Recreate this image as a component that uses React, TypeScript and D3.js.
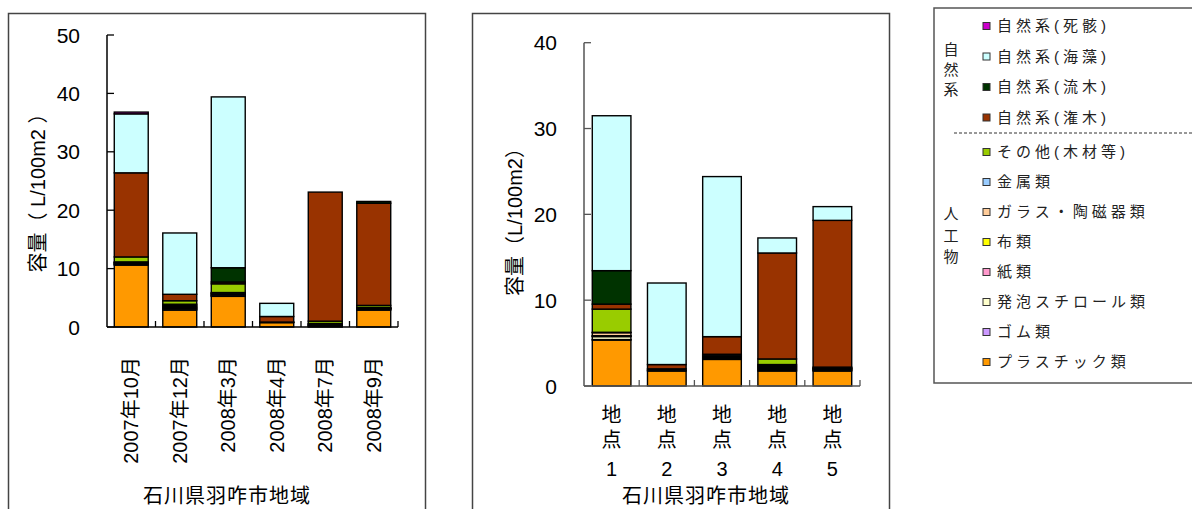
import React from "react";
import * as d3 from "d3";

// ---------- series (bottom -> top of stack) ----------
const seriesKeys = ["plastic","rubber","foam","paper","cloth","glass","metal","other","shrub","driftwood","seaweed","carcass"];
const seriesNames = ["プラスチック類","ゴム類","発泡スチロール類","紙類","布類","ガラス・陶磁器類","金属類","その他(木材等)","自然系(潅木)","自然系(流木)","自然系(海藻)","自然系(死骸)"];
const seriesColors = ["#FF9900","#CC99FF","#FFFFCC","#FF99CC","#FFFF00","#FFCC99","#99CCFF","#99CC00","#993300","#003300","#CCFFFF","#CC00CC"];

// ---------- left chart: by month ----------
const monthCats = ["2007年10月","2007年12月","2008年3月","2008年4月","2008年7月","2008年9月"];
const mPlastic   = [10.6, 2.9, 5.25, 0.75, 0.1, 2.9];
const mRubber    = [0.1, 0.15, 0.1, 0.05, 0.1, 0.1];
const mFoam      = [0.1, 0.15, 0.1, 0, 0.1, 0.1];
const mPaper     = [0.1, 0.15, 0.15, 0, 0.1, 0.05];
const mCloth     = [0.1, 0.15, 0.1, 0, 0, 0.05];
const mGlass     = [0.05, 0.2, 0.1, 0, 0.1, 0.05];
const mMetal     = [0.1, 0.2, 0.1, 0.05, 0.1, 0.1];
const mOther     = [0.85, 0.6, 1.5, 0, 0.4, 0.35];
const mShrub     = [14.4, 1.1, 0.3, 0.95, 22.1, 17.5];
const mDriftwood = [0, 0, 2.45, 0, 0, 0.3];
const mSeaweed   = [10.1, 10.5, 29.25, 2.25, 0, 0];
const mCarcass   = [0.3, 0, 0, 0, 0, 0];
const monthTicks = [0, 10, 20, 30, 40, 50];

// ---------- right chart: by site ----------
const siteCats = ["1","2","3","4","5"];
const sPlastic   = [5.36, 1.75, 3.1, 1.75, 1.75];
const sRubber    = [0.05, 0.1, 0.1, 0.125, 0.1];
const sFoam      = [0.35, 0, 0.1, 0.125, 0.05];
const sPaper     = [0.05, 0, 0.1, 0.125, 0.1];
const sCloth     = [0.05, 0, 0.1, 0.125, 0.05];
const sGlass     = [0.35, 0, 0.1, 0.125, 0.05];
const sMetal     = [0.05, 0.15, 0.1, 0.125, 0.1];
const sOther     = [2.7, 0, 0, 0.65, 0];
const sShrub     = [0.58, 0.5, 2.05, 12.35, 17.1];
const sDriftwood = [3.9, 0, 0, 0, 0];
const sSeaweed   = [18.05, 9.5, 18.65, 1.75, 1.6];
const sCarcass   = [0, 0, 0, 0, 0];
const siteTicks = [0, 10, 20, 30, 40];

const monthSeries = [mPlastic,mRubber,mFoam,mPaper,mCloth,mGlass,mMetal,mOther,mShrub,mDriftwood,mSeaweed,mCarcass];
const siteSeries = [sPlastic,sRubber,sFoam,sPaper,sCloth,sGlass,sMetal,sOther,sShrub,sDriftwood,sSeaweed,sCarcass];

const FONT = "'Liberation Sans', Arial, 'Noto Sans CJK JP', sans-serif";

function buildTable(cats: string[], series: number[][]) {
  return cats.map((c, i) => {
    const row: any = { cat: c };
    seriesKeys.forEach((k, j) => (row[k] = series[j][i]));
    return row;
  });
}

type ChartProps = {
  cats: string[];
  series: number[][];
  ticks: number[];
  yMax: number;
  x0: number; x1: number; y0: number; y1: number;
  axisColor: string;
  title: string;
  titleX: number; titleY: number;
  tickLabelX: number;
  xLabel: (c: string, cx: number, i: number) => React.ReactNode;
  xTitleX: number;
};

function StackChart(p: ChartProps) {
  const table = buildTable(p.cats, p.series);
  const stacked = d3.stack<any>().keys(seriesKeys)(table);
  const x = d3.scaleBand<string>().domain(p.cats).range([p.x0, p.x1]).paddingInner(0.3).paddingOuter(0.15);
  const y = d3.scaleLinear().domain([0, p.yMax]).range([p.y0, p.y1]);
  const step = x.step();
  const bounds = p.cats.map((c) => (x(c) as number) + x.bandwidth() + step * 0.15);
  return (
    <g fontFamily={FONT}>
      {stacked.map((layer, li) => (
        <g key={li} fill={seriesColors[li]}>
          {layer.map((d, i) => {
            const h = y(d[0]) - y(d[1]);
            if (h <= 0) return null;
            return (
              <rect key={i} x={x(p.cats[i])} y={y(d[1])} width={x.bandwidth()} height={h}
                stroke="#000" strokeWidth={1.4} />
            );
          })}
        </g>
      ))}
      {/* axes */}
      <line x1={p.x0} x2={p.x0} y1={y(p.yMax)} y2={p.y0} stroke={p.axisColor} strokeWidth={1.5} />
      <line x1={p.x0} x2={p.x1} y1={p.y0} y2={p.y0} stroke={p.axisColor} strokeWidth={1.5} />
      {p.ticks.map((t) => (
        <g key={t}>
          <line x1={p.x0} x2={p.x0 + 7} y1={y(t)} y2={y(t)} stroke={p.axisColor} strokeWidth={1.3} />
          <text x={p.tickLabelX} y={y(t)} dy="0.36em" textAnchor="end" fontSize={21} fill="#000">{t}</text>
        </g>
      ))}
      {bounds.map((b, i) => (
        <line key={i} x1={b} x2={b} y1={p.y0} y2={p.y0 - 6} stroke={p.axisColor} strokeWidth={1.3} />
      ))}
      <text transform={`translate(${p.titleX},${p.titleY}) rotate(-90)`} textAnchor="middle" dy="0.35em" fontSize={20} fill="#000">{p.title}</text>
      {p.cats.map((c, i) => p.xLabel(c, (x(c) as number) + x.bandwidth() / 2, i))}
      <text x={p.xTitleX} y={496} dy="0.35em" textAnchor="middle" fontSize={20} letterSpacing={1} fill="#000">石川県羽咋市地域</text>
    </g>
  );
}

const legendNatural = [11, 10, 9, 8];
const legendArtificial = [7, 6, 5, 4, 3, 2, 1, 0];

export default function App() {
  return (
    <svg width={1192} height={509} style={{ position: "absolute", left: 0, top: 0, background: "#fff" }}>
      <rect x={0} y={0} width={1192} height={509} fill="#fff" />
      {/* panel borders */}
      <rect x={8.5} y={13.5} width={417} height={520} fill="none" stroke="#444" strokeWidth={1.5} />
      <rect x={472.5} y={13.5} width={417} height={520} fill="none" stroke="#444" strokeWidth={1.5} />

      <StackChart cats={monthCats} series={monthSeries} ticks={monthTicks} yMax={50}
        x0={107} x1={398} y0={327} y1={35} axisColor="#000"
        title="容量（ L/100m2 ）" titleX={38} titleY={188} tickLabelX={80}
        xLabel={(c, cx, i) => (
          <text key={i} transform={`translate(${cx},357) rotate(-90)`} textAnchor="end" dy="0.36em" fontSize={20} fill="#000">{c}</text>
        )}
        xTitleX={227} />

      <StackChart cats={siteCats} series={siteSeries} ticks={siteTicks} yMax={40}
        x0={584} x1={860} y0={386} y1={42.7} axisColor="#555"
        title="容量（L/100m2）" titleX={515} titleY={217} tickLabelX={557}
        xLabel={(c, cx, i) => (
          <g key={i} fontSize={20} fill="#000" textAnchor="middle">
            <text x={cx} y={415} dy="0.36em">地</text>
            <text x={cx} y={440} dy="0.36em">点</text>
            <text x={cx} y={469} dy="0.36em">{c}</text>
          </g>
        )}
        xTitleX={706} />

      {/* legend */}
      <g fontFamily={FONT}>
        <rect x={934} y={8} width={270} height={375} fill="#fff" stroke="#555" strokeWidth={1.5} />
        {["自", "然", "系"].map((ch, i) => (
          <text key={ch} x={951} y={50 + i * 20} dy="0.36em" textAnchor="middle" fontSize={15} fill="#222">{ch}</text>
        ))}
        {["人", "工", "物"].map((ch, i) => (
          <text key={ch} x={951} y={214 + i * 21.5} dy="0.36em" textAnchor="middle" fontSize={15} fill="#222">{ch}</text>
        ))}
        <line x1={954} x2={1192} y1={133} y2={133} stroke="#333" strokeWidth={1} strokeDasharray="3,2" />
        {legendNatural.map((si, i) => {
          const yy = 26 + i * 30.5;
          return (
            <g key={si}>
              <rect x={983} y={yy - 3.5} width={7} height={7} fill={seriesColors[si]} stroke="#333" strokeWidth={1} />
              <text x={997} y={yy} dy="0.36em" fontSize={15} letterSpacing={4} fill="#222">{seriesNames[si]}</text>
            </g>
          );
        })}
        {legendArtificial.map((si, i) => {
          const yy = 152 + i * 30;
          return (
            <g key={si}>
              <rect x={983} y={yy - 3.5} width={7} height={7} fill={seriesColors[si]} stroke="#333" strokeWidth={1} />
              <text x={997} y={yy} dy="0.36em" fontSize={15} letterSpacing={4} fill="#222">{seriesNames[si]}</text>
            </g>
          );
        })}
      </g>
    </svg>
  );
}
